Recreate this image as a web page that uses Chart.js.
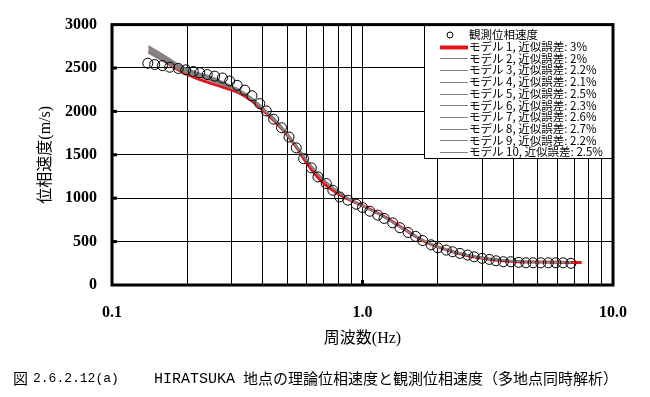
<!DOCTYPE html>
<html>
<head>
<meta charset="utf-8">
<script src="https://cdn.jsdelivr.net/npm/chart.js@4.4.1/dist/chart.umd.min.js"></script>
<style>
  html, body { margin: 0; padding: 0; background: #fff; }
  #wrap { width: 650px; height: 397px; position: relative; }
</style>
</head>
<body>
<div id="wrap"><canvas id="chart"></canvas></div>
<script>
const obsFreq = [0.139, 0.148, 0.159, 0.170, 0.184, 0.197, 0.211, 0.224, 0.240, 0.257, 0.276, 0.295, 0.316, 0.339, 0.362,
  0.389, 0.413, 0.442, 0.475, 0.509, 0.544, 0.582, 0.625, 0.664, 0.717, 0.761, 0.810, 0.874, 0.944, 1.00,
  1.07, 1.15, 1.22, 1.32, 1.41, 1.52, 1.63, 1.74, 1.88, 2.00, 2.16, 2.29, 2.45, 2.63, 2.79,
  3.00, 3.21, 3.41, 3.65, 3.91, 4.20, 4.49, 4.80, 5.15, 5.52, 5.91, 6.32, 6.79]
const obsVel = [2555, 2540, 2528, 2509, 2495, 2479, 2460, 2445, 2425, 2406, 2385, 2350, 2300, 2245, 2180,
  2090, 2005, 1910, 1812, 1705, 1580, 1455, 1350, 1245, 1169, 1092, 1015, 977, 931, 893,
  850, 805, 767, 716, 660, 605, 560, 512, 463, 428, 402, 383, 364, 345, 325,
  307, 295, 279, 268, 268, 261, 256, 256, 256, 256, 256, 256, 250]

const model1Freq = [0.14, 0.16, 0.18, 0.2, 0.22, 0.25, 0.28, 0.32, 0.36, 0.4, 0.45, 0.5, 0.55, 0.6, 0.65, 0.7,
  0.8, 0.9, 1.0, 1.2, 1.4, 1.6, 1.8, 2.0, 2.5, 3.0, 3.5, 4.0, 5.0, 6.0, 7.0, 7.5]
const model1Vel = [2690, 2590, 2495, 2425, 2375, 2320, 2275, 2215, 2125, 2015, 1875, 1730, 1570, 1400, 1270, 1170,
  1050, 975, 915, 800, 680, 575, 490, 440, 355, 310, 285, 272, 264, 261, 260, 260]

const modelFreq = [0.14, 0.16, 0.18, 0.2, 0.22, 0.25, 0.28, 0.32, 0.36, 0.4, 0.45, 0.5, 0.55, 0.6, 0.65, 0.7,
  0.8, 0.9, 1.0, 1.2, 1.5, 2.0, 2.5, 3.0, 4.0, 5.0, 6.8]
const model2Vel = [2740, 2640, 2545, 2475, 2435, 2385, 2325, 2250, 2155, 2040, 1900, 1750, 1590, 1440, 1315, 1215, 1078, 982, 912, 796, 620, 440, 360, 314, 276, 265, 259]
const model3Vel = [2700, 2605, 2515, 2450, 2415, 2365, 2310, 2238, 2145, 2030, 1885, 1735, 1578, 1430, 1305, 1205, 1072, 978, 908, 793, 619, 439, 359, 315, 277, 266, 260]
const model4Vel = [2755, 2655, 2560, 2490, 2448, 2398, 2335, 2258, 2160, 2045, 1905, 1752, 1590, 1438, 1312, 1212, 1076, 981, 911, 795, 621, 441, 361, 316, 278, 267, 261]
const model5Vel = [2680, 2590, 2505, 2440, 2405, 2355, 2302, 2232, 2140, 2028, 1880, 1730, 1575, 1428, 1302, 1204, 1070, 977, 907, 792, 618, 438, 358, 314, 276, 265, 259]
const model6Vel = [2730, 2630, 2540, 2470, 2432, 2380, 2322, 2248, 2152, 2038, 1897, 1747, 1587, 1437, 1312, 1212, 1076, 981, 911, 795, 620, 440, 360, 315, 277, 266, 260]
const model7Vel = [2670, 2580, 2500, 2438, 2400, 2350, 2298, 2228, 2138, 2025, 1880, 1732, 1576, 1430, 1306, 1208, 1074, 980, 910, 794, 619, 439, 359, 314, 276, 265, 259]
const model8Vel = [2715, 2620, 2530, 2462, 2425, 2374, 2318, 2244, 2150, 2034, 1890, 1740, 1582, 1433, 1308, 1209, 1073, 979, 909, 794, 620, 440, 360, 315, 277, 266, 260]
const model9Vel = [2705, 2612, 2522, 2455, 2420, 2370, 2314, 2241, 2147, 2032, 1888, 1738, 1580, 1432, 1307, 1208, 1074, 979, 909, 794, 620, 440, 360, 315, 277, 266, 260]
const model10Vel = [2745, 2648, 2552, 2482, 2440, 2392, 2330, 2254, 2158, 2042, 1902, 1750, 1589, 1439, 1313, 1213, 1077, 982, 912, 796, 621, 441, 361, 316, 278, 267, 261]

const obsName = '観測位相速度'
const modelErrors = ['3%', '2%', '2.2%', '2.1%', '2.5%', '2.3%', '2.6%', '2.7%', '2.2%', '2.5%']
const xTickValues = [0.1, 0.2, 0.3, 0.4, 0.5, 0.6, 0.7, 0.8, 0.9, 1, 2, 3, 4, 5, 6, 7, 8, 9, 10]
const xLabelValues = [0.1, 1, 10]
const yMax = 3000
const yStep = 500
const xTitle = '周波数(Hz)'
const yTitle = '位相速度(m/s)'
const caption = ['図', '2.6.2.12(a)', 'HIRATSUKA', '地点の理論位相速度と観測位相速度（多地点同時解析）']

const toPoints = (xs, ys) => xs.map((x, i) => ({ x: x, y: ys[i] }))
const grayModels = [model2Vel, model3Vel, model4Vel, model5Vel, model6Vel, model7Vel, model8Vel, model9Vel, model10Vel]
const modelNames = modelErrors.map((e, i) => 'モデル ' + (i + 1) + ', 近似誤差: ' + e)

const datasets = [
    {
        label: obsName,
        data: toPoints(obsFreq, obsVel),
        showLine: false,
        order: 0,
        pointRadius: 5,
        pointBorderWidth: 1,
        pointBorderColor: '#000',
        pointBackgroundColor: 'rgba(255,255,255,0)'
    },
    {
        label: modelNames[0],
        data: toPoints(model1Freq, model1Vel),
        showLine: true,
        order: 2,
        borderColor: '#e8141c',
        borderWidth: 3,
        pointRadius: 0,
        cubicInterpolationMode: 'monotone'
    }
]
grayModels.forEach((vals, i) => {
    datasets.push({
        label: modelNames[i + 1],
        data: toPoints(modelFreq, vals),
        showLine: true,
        order: 1,
        borderColor: '#838383',
        borderWidth: 1.3,
        pointRadius: 0,
        cubicInterpolationMode: 'monotone'
    })
})

const frame = {
    id: 'frame',
    afterDraw(chart) {
        const { ctx, chartArea: a, scales } = chart
        ctx.save()
        ctx.strokeStyle = '#000'
        // inward ticks
        ctx.lineWidth = 3
        for (let v = yStep; v < yMax; v += yStep) {
            const y = scales.y.getPixelForValue(v)
            ctx.beginPath()
            ctx.moveTo(a.left, y)
            ctx.lineTo(a.left + 5, y)
            ctx.stroke()
        }
        const x1 = scales.x.getPixelForValue(1)
        ctx.beginPath()
        ctx.moveTo(x1, a.bottom)
        ctx.lineTo(x1, a.bottom - 5)
        ctx.stroke()

        // legend box
        const lx = 424, ly = 24, lw = 188, lh = 134
        ctx.fillStyle = '#fff'
        ctx.fillRect(lx, ly, lw, lh)
        ctx.lineWidth = 1
        ctx.strokeRect(lx + 0.5, ly + 0.5, lw, lh)
        ctx.font = '11.5px "Noto Sans CJK JP"'
        ctx.textBaseline = 'middle'
        ctx.textAlign = 'left'
        ctx.fillStyle = '#000'
        const rowH = 11.7
        let y = 35
        ctx.beginPath()
        ctx.arc(450, y, 3, 0, Math.PI * 2)
        ctx.stroke()
        ctx.fillText(obsName, 469, y)
        modelNames.forEach((name, i) => {
            y = 35 + (i + 1) * rowH
            ctx.beginPath()
            ctx.strokeStyle = i === 0 ? '#e8141c' : '#838383'
            ctx.lineWidth = i === 0 ? 4 : 1
            ctx.moveTo(440, Math.round(y) + 0.5)
            ctx.lineTo(468, Math.round(y) + 0.5)
            ctx.stroke()
            ctx.fillStyle = '#000'
            ctx.fillText(name, 469, y, 138)
        })

        // frame
        ctx.strokeStyle = '#000'
        ctx.lineWidth = 3
        ctx.strokeRect(a.left, a.top, a.right - a.left, a.bottom - a.top)

        // caption
        ctx.fillStyle = '#000'
        ctx.font = '15px "Noto Sans CJK JP"'
        ctx.fillText(caption[0], 13, 378)
        ctx.font = '13px "Liberation Mono"'
        ctx.fillText(caption[1], 33, 379, 90)
        ctx.font = '15px "Liberation Mono"'
        ctx.fillText(caption[2], 154, 379, 84)
        ctx.font = '15px "Noto Sans CJK JP"'
        ctx.fillText(caption[3], 243, 378, 395)
        ctx.restore()
    }
}

new Chart(document.getElementById('chart'), {
    type: 'scatter',
    data: { datasets: datasets },
    options: {
        responsive: true,
        maintainAspectRatio: false,
        animation: false,
        layout: { padding: { top: 24, right: 37, bottom: 40, left: 0 } },
        plugins: { legend: { display: false }, tooltip: { enabled: false } },
        scales: {
            x: {
                type: 'logarithmic',
                min: 0.1,
                max: 10,
                afterFit: (s) => { s.height = 72 },
                afterBuildTicks: (s) => { s.ticks = xTickValues.map(v => ({ value: v })) },
                grid: { color: '#000', lineWidth: 1, drawTicks: false },
                border: { display: false },
                ticks: {
                    autoSkip: false,
                    maxRotation: 0,
                    padding: 18,
                    color: '#000',
                    font: { family: '"Liberation Serif"', size: 16, weight: 'bold' },
                    callback: (v) => xLabelValues.includes(v) ? Number(v).toFixed(1) : ''
                },
                title: {
                    display: true,
                    text: xTitle,
                    color: '#000',
                    padding: { top: 0, bottom: 9 },
                    font: { family: '"Liberation Serif", "Noto Sans CJK JP"', size: 16 }
                }
            },
            y: {
                min: 0,
                max: yMax,
                afterFit: (s) => { s.width = 112 },
                grid: { color: '#000', lineWidth: 1, drawTicks: false },
                border: { display: false },
                ticks: {
                    stepSize: yStep,
                    padding: 15,
                    color: '#000',
                    font: { family: '"Liberation Serif"', size: 16, weight: 'bold' },
                    callback: (v) => String(v)
                },
                title: {
                    display: true,
                    text: yTitle,
                    color: '#000',
                    padding: { top: 36, bottom: 0 },
                    font: { family: '"Liberation Serif", "Noto Sans CJK JP"', size: 16 }
                }
            }
        }
    },
    plugins: [frame]
})
</script>
</body>
</html>
